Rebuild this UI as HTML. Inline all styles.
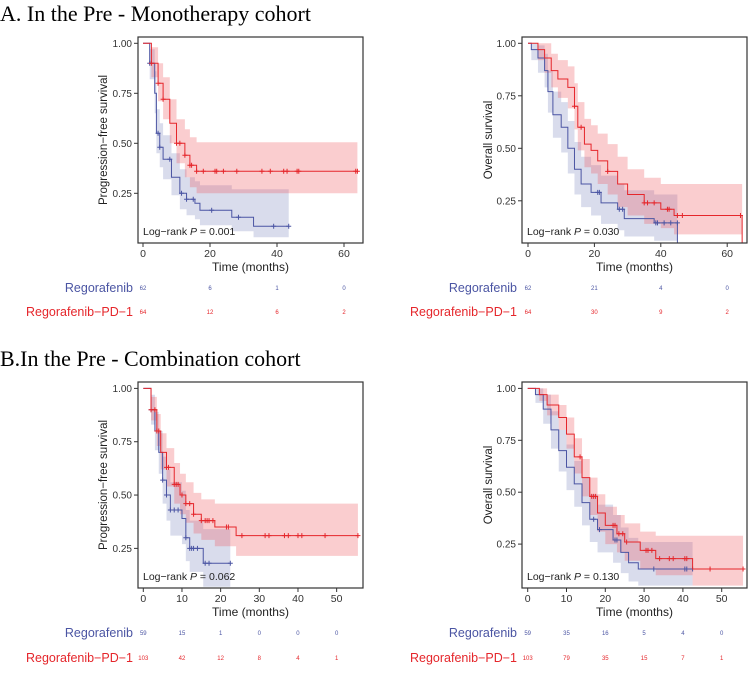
<!DOCTYPE html>
<html><head><meta charset="utf-8"><style>
body{margin:0;background:#fff;}
svg{display:block;font-family:"Liberation Sans",sans-serif;}
.ttl{font-family:"Liberation Serif",serif;font-size:22px;fill:#000;}
</style></head><body>
<svg id="fig" width="753" height="673" viewBox="0 0 753 673">
<text class="ttl" x="0" y="21">A. In the Pre - Monotherapy cohort</text>
<text class="ttl" x="0" y="366">B.In the Pre - Combination cohort</text>
</svg>
<script>
// ---- Panel A PFS ----
const aPfsBlueT=[0,2,3.5,4,5,6,8.5,11,13,15.5,17,26.5,33];
const aPfsBlueS=[1,0.9,0.75,0.55,0.48,0.42,0.33,0.25,0.22,0.2,0.165,0.13,0.085];
const aPfsBlueL=[1,0.82,0.65,0.45,0.38,0.32,0.24,0.17,0.14,0.12,0.09,0.06,0.03];
const aPfsBlueU=[1,0.97,0.86,0.67,0.6,0.54,0.45,0.37,0.33,0.31,0.29,0.27,0.27];
const aPfsRedT=[0,2.5,4.5,6,8,10,12.5,14,16];
const aPfsRedS=[1,0.9,0.8,0.72,0.6,0.5,0.44,0.39,0.36];
const aPfsRedL=[1,0.83,0.71,0.62,0.5,0.4,0.33,0.28,0.25];
const aPfsRedU=[1,0.98,0.9,0.83,0.72,0.62,0.57,0.53,0.505];
const aPfsBlueCens=[2,4.5,5,8,11.5,13,15,20.5,28.5,39,43.5];
const aPfsRedCens=[2.5,4.5,6,10,11,12.5,14,14.5,16,18,21.5,22,24,28,35.5,38,42,43,46,46.5,63.5,64];
// ---- Panel A OS ----
const aOsBlueT=[0,1,3,5,6,7.5,10,12,14,16,19,22,27,29,38];
const aOsBlueS=[1,0.97,0.93,0.87,0.77,0.66,0.6,0.5,0.4,0.33,0.29,0.24,0.21,0.165,0.145];
const aOsBlueL=[1,0.92,0.86,0.79,0.67,0.55,0.48,0.38,0.28,0.22,0.18,0.14,0.11,0.08,0.06];
const aOsBlueU=[1,1,0.99,0.95,0.87,0.77,0.72,0.63,0.53,0.46,0.42,0.37,0.33,0.3,0.28];
const aOsRedT=[0,3,5,7,9,12,14,15,17,19,21,24,27,30,35,40,44];
const aOsRedS=[1,0.97,0.93,0.87,0.83,0.79,0.7,0.6,0.52,0.49,0.44,0.39,0.33,0.28,0.24,0.21,0.18];
const aOsRedL=[1,0.92,0.86,0.79,0.74,0.69,0.59,0.49,0.41,0.38,0.33,0.28,0.22,0.18,0.14,0.12,0.09];
const aOsRedU=[1,1,1,0.95,0.92,0.89,0.81,0.72,0.64,0.61,0.57,0.52,0.46,0.4,0.36,0.33,0.33];
const aOsBlueCens=[21,21.5,27.5,28.5,38.5,39,41,43,45];
const aOsRedCens=[14,16,24,35,36,38,42,42.5,45,46.5,64];
// ---- Panel B PFS ----
const bPfsBlueT=[0,2,3,4,5,6,7,10,11,12,15.5];
const bPfsBlueS=[1,0.9,0.8,0.7,0.57,0.5,0.43,0.39,0.3,0.25,0.18];
const bPfsBlueL=[1,0.83,0.71,0.6,0.46,0.38,0.31,0.27,0.19,0.14,0.07];
const bPfsBlueU=[1,0.97,0.89,0.8,0.68,0.62,0.56,0.52,0.43,0.38,0.34];
const bPfsRedT=[0,2,3.5,4.5,6,8,9.5,11,13,15,18.5,24];
const bPfsRedS=[1,0.9,0.8,0.7,0.63,0.55,0.5,0.46,0.41,0.38,0.35,0.31];
const bPfsRedL=[1,0.85,0.73,0.62,0.54,0.46,0.41,0.37,0.32,0.29,0.26,0.215];
const bPfsRedU=[1,0.96,0.88,0.79,0.72,0.65,0.6,0.56,0.51,0.48,0.46,0.46];
const bPfsBlueCens=[2,5,6,7,8,9,11,12,12.5,13,14,16,17,22.5];
const bPfsRedCens=[2,3,3.5,4,6,6.5,8,8.5,9,10,11,12,13,15,16,16.5,17,18,21.5,22,25.5,31.5,32.5,36.5,37.5,40,41,47,55.5];
const pfsTicksA=[0,20,40,60];
const pfsTicksB=[0,10,20,30,40,50];
// ---- Panel B OS ----
const bOsBlueT=[0,2,4,6,8,10,12,14,16,18,22,24,26,28.5];
const bOsBlueS=[1,0.97,0.9,0.8,0.7,0.62,0.54,0.45,0.37,0.32,0.27,0.21,0.16,0.13];
const bOsBlueL=[1,0.93,0.83,0.71,0.6,0.51,0.43,0.34,0.26,0.21,0.16,0.11,0.07,0.05];
const bOsBlueU=[1,1,0.97,0.89,0.8,0.73,0.65,0.57,0.49,0.44,0.39,0.33,0.28,0.26];
const bOsRedT=[0,3,5,8,10,12,14,16,18,20,23,25,29,33,42.5];
const bOsRedS=[1,0.97,0.92,0.86,0.78,0.67,0.57,0.48,0.4,0.34,0.3,0.26,0.22,0.18,0.13];
const bOsRedL=[1,0.94,0.87,0.8,0.71,0.59,0.48,0.39,0.31,0.25,0.21,0.17,0.13,0.1,0.05];
const bOsRedU=[1,1,0.97,0.92,0.86,0.76,0.66,0.57,0.49,0.43,0.39,0.35,0.31,0.29,0.29];
const bOsBlueCens=[17,18.5,22.5,23,32.5,40.5,41,42.5];
const bOsRedCens=[13.5,16.5,17,17.5,22,22.5,23.5,24.5,25.5,30.5,31,32,34,36.5,37.5,40.5,41,47,55.5];
const yTicks=[0.25,0.5,0.75,1.0];
// risk tables
const aPfsRiskBlue=[62,6,1,0], aPfsRiskRed=[64,12,6,2];
const aOsRiskBlue=[62,21,4,0], aOsRiskRed=[64,30,9,2];
const bPfsRiskBlue=[59,15,1,0,0,0], bPfsRiskRed=[103,42,12,8,4,1];
const bOsRiskBlue=[59,35,16,5,4,0], bOsRiskRed=[103,79,35,15,7,1];

const NS='http://www.w3.org/2000/svg';
const svg=document.getElementById('fig');
function mk(tag,attrs,parent){const e=document.createElementNS(NS,tag);for(const k in attrs)e.setAttribute(k,attrs[k]);(parent||svg).appendChild(e);return e;}
const BLUE='#4b55a3', RED='#e5262b';
function stepPath(T,S,end,xs,ys){let d='M'+xs(T[0])+','+ys(S[0]);for(let i=1;i<T.length;i++){d+=' H'+xs(T[i])+' V'+ys(S[i]);}d+=' H'+xs(end);return d;}
function ciPath(T,L,U,end,xs,ys){let d='M'+xs(T[0])+','+ys(U[0]);for(let i=1;i<T.length;i++){d+=' H'+xs(T[i])+' V'+ys(U[i]);}d+=' H'+xs(end)+' V'+ys(L[L.length-1]);for(let i=T.length-1;i>0;i--){d+=' H'+xs(T[i])+' V'+ys(L[i-1]);}d+=' H'+xs(T[0])+' Z';return d;}
function stepAt(T,S,t){let v=S[0];for(let i=0;i<T.length;i++){if(t>=T[i])v=S[i];}return v;}

function panel(p){
  const g=mk('g',{});
  
  
  const xs=t=>p.x0+p.kx*t, ys=s=>p.y0-p.ky*s;
  const series=[
    {T:p.bT,S:p.bS,L:p.bL,U:p.bU,end:p.bEnd,c:BLUE,fill:'rgba(120,130,185,0.28)',cens:p.bC,n:'regorafenib'},
    {T:p.rT,S:p.rS,L:p.rL,U:p.rU,end:p.rEnd,c:RED,fill:'rgba(240,90,95,0.30)',cens:p.rC,n:'regorafenib-pd1'}];
  series.forEach(s=>{
    const ci=mk('path',{d:ciPath(s.T,s.L,s.U,s.end,xs,ys),fill:s.fill,stroke:'none'},g);
    
    
  });
  series.forEach(s=>{
    let d=stepPath(s.T,s.S,s.end,xs,ys);
    const ln=mk('path',{d:d,fill:'none',stroke:s.c,'stroke-width':1},g);
    
    
    s.cens.forEach(t=>{const cx=xs(t),cy=ys(stepAt(s.T,s.S,t));
      const m=mk('path',{d:`M${cx-2.5},${cy}H${cx+2.5}M${cx},${cy-2.5}V${cy+2.5}`,stroke:s.c,'stroke-width':1},g);
      
      });
  });
  if(p.dropB){const dl=mk('path',{d:`M${xs(p.bEnd)},${ys(stepAt(p.bT,p.bS,p.bEnd))}V${p.by1}`,stroke:BLUE,fill:'none'},g);}
  if(p.dropR){const dl=mk('path',{d:`M${xs(p.rEnd)},${ys(stepAt(p.rT,p.rS,p.rEnd))}V${p.by1}`,stroke:RED,fill:'none'},g);}
  const box=mk('rect',{x:p.bx0,y:p.by0,width:p.bx1-p.bx0,height:p.by1-p.by0,fill:'none',stroke:'#333','stroke-width':1.2},g);
  
  
  yTicks.forEach(v=>{const y=ys(v);
    mk('line',{x1:p.bx0-4,x2:p.bx0,y1:y,y2:y,stroke:'#333'},g);
    const t=mk('text',{x:p.bx0-6,y:y+3.5,'text-anchor':'end','font-size':10,fill:'#333'},g);t.textContent=v.toFixed(2);
    
    });
  p.xt.forEach((v,i)=>{const x=xs(v);
    mk('line',{x1:x,x2:x,y1:p.by1,y2:p.by1+4,stroke:'#333'},g);
    const t=mk('text',{x:x,y:p.by1+14,'text-anchor':'middle','font-size':10.5,fill:'#333'},g);t.textContent=v;
    
    
    const rb=mk('text',{x:x,y:p.r1+2,'text-anchor':'middle','font-size':6,fill:BLUE},g);rb.textContent=p.rkB[i];
    
    
    const rr=mk('text',{x:x,y:p.r2+2,'text-anchor':'middle','font-size':6,fill:RED},g);rr.textContent=p.rkR[i];
    
    });
  const xl=mk('text',{x:(p.bx0+p.bx1)/2,y:p.by1+28,'text-anchor':'middle','font-size':12,fill:'#222'},g);xl.textContent='Time (months)';
  
  
  const yl=mk('text',{x:0,y:0,'text-anchor':'middle','font-size':11.5,fill:'#222',transform:`translate(${p.ylx},${(p.by0+p.by1)/2}) rotate(-90)`},g);yl.textContent=p.ylab;
  
  
  const lr=mk('text',{x:p.bx0+5,y:p.by1-8,'font-size':10.5,fill:'#222'},g);
  lr.innerHTML='Log−rank <tspan font-style="italic">P</tspan> = '+p.pval;
  
  
  const l1=mk('text',{x:p.lblx,y:p.r1+4,'text-anchor':'end','font-size':12.5,fill:BLUE},g);l1.textContent='Regorafenib';
  
  
  const l2=mk('text',{x:p.lblx,y:p.r2+4,'text-anchor':'end','font-size':12.5,fill:RED},g);l2.textContent='Regorafenib−PD−1';
  
  
}

panel({name:'panel-a-pfs',x0:143,kx:3.35,y0:243.3,ky:200,bx0:138,bx1:363,by0:37,by1:243,
  bT:aPfsBlueT,bS:aPfsBlueS,bL:aPfsBlueL,bU:aPfsBlueU,bEnd:43.5,bC:aPfsBlueCens,
  rT:aPfsRedT,rS:aPfsRedS,rL:aPfsRedL,rU:aPfsRedU,rEnd:64,rC:aPfsRedCens,
  xt:pfsTicksA,rkB:aPfsRiskBlue,rkR:aPfsRiskRed,r1:288,r2:312,lblx:133,ylx:107,ylab:'Progression−free survival',pval:'0.001'});
panel({name:'panel-a-os',x0:528,kx:3.32,y0:253.3,ky:210,bx0:522,bx1:747,by0:37,by1:243,
  bT:aOsBlueT,bS:aOsBlueS,bL:aOsBlueL,bU:aOsBlueU,bEnd:45,bC:aOsBlueCens,dropB:true,
  rT:aOsRedT,rS:aOsRedS,rL:aOsRedL,rU:aOsRedU,rEnd:64.5,rC:aOsRedCens,dropR:true,
  xt:pfsTicksA,rkB:aOsRiskBlue,rkR:aOsRiskRed,r1:288,r2:312,lblx:517,ylx:492,ylab:'Overall survival',pval:'0.030'});
panel({name:'panel-b-pfs',x0:143.3,kx:3.867,y0:601.7,ky:213.3,bx0:138,bx1:363,by0:382,by1:588,
  bT:bPfsBlueT,bS:bPfsBlueS,bL:bPfsBlueL,bU:bPfsBlueU,bEnd:22.5,bC:bPfsBlueCens,
  rT:bPfsRedT,rS:bPfsRedS,rL:bPfsRedL,rU:bPfsRedU,rEnd:55.5,rC:bPfsRedCens,
  xt:pfsTicksB,rkB:bPfsRiskBlue,rkR:bPfsRiskRed,r1:633,r2:658,lblx:133,ylx:107,ylab:'Progression−free survival',pval:'0.062'});
panel({name:'panel-b-os',x0:527.7,kx:3.88,y0:596,ky:207.6,bx0:522,bx1:747,by0:382,by1:588,
  bT:bOsBlueT,bS:bOsBlueS,bL:bOsBlueL,bU:bOsBlueU,bEnd:42.5,bC:bOsBlueCens,
  rT:bOsRedT,rS:bOsRedS,rL:bOsRedL,rU:bOsRedU,rEnd:55.5,rC:bOsRedCens,
  xt:pfsTicksB,rkB:bOsRiskBlue,rkR:bOsRiskRed,r1:633,r2:658,lblx:517,ylx:492,ylab:'Overall survival',pval:'0.130'});
</script>
</body></html>
